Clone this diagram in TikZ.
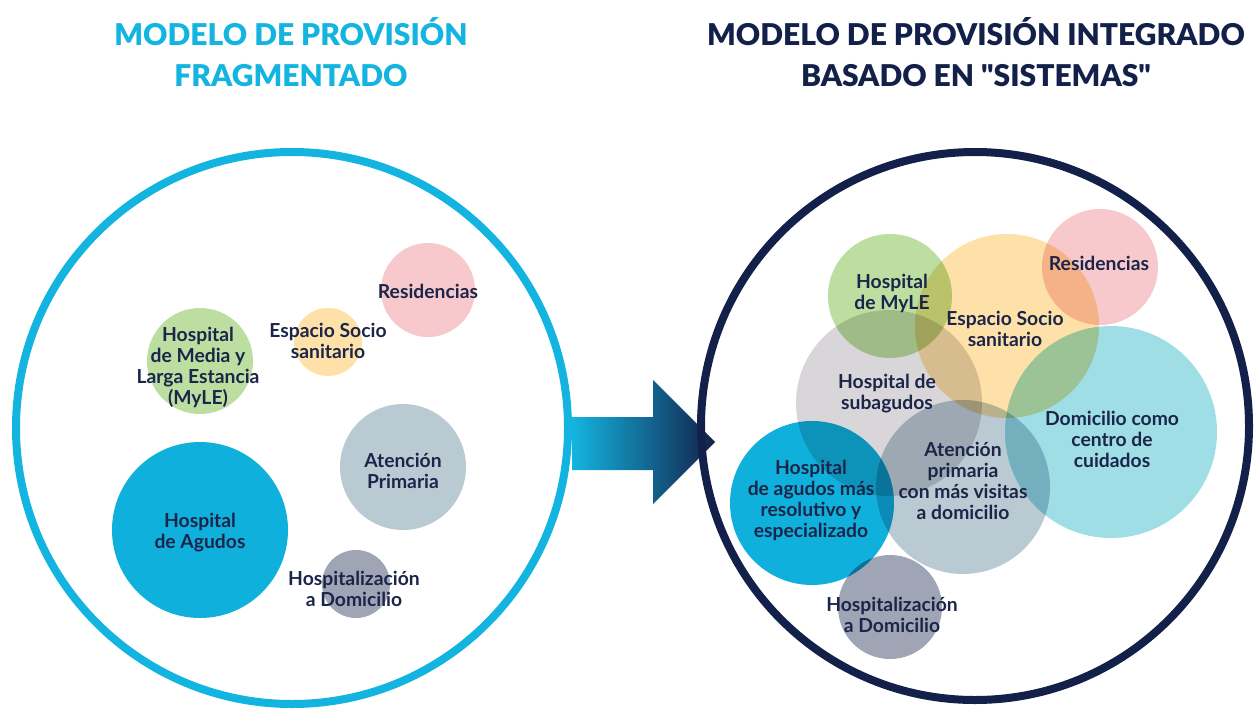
\documentclass[tikz,border=0pt]{standalone}
\usepackage{fontspec}
\setmainfont{Lato}
\IfFontExistsTF{Lato Black}{\newfontfamily\headfont{Lato Black}}{\def\headfont{\bfseries}}
\definecolor{cyanring}{RGB}{19,181,224}
\definecolor{navy}{RGB}{19,33,74}
\definecolor{txt}{RGB}{27,37,73}
\definecolor{pinkc}{RGB}{247,201,205}
\definecolor{yellowc}{RGB}{253,225,168}
\definecolor{greenc}{RGB}{189,222,161}
\definecolor{apc}{RGB}{186,202,211}
\definecolor{agudos}{RGB}{16,176,220}
\definecolor{hadc}{RGB}{160,165,181}
\definecolor{subag}{RGB}{216,214,216}
\definecolor{domic}{RGB}{158,222,228}
\tikzset{
  bub/.style={circle, inner sep=0pt, outer sep=0pt, draw=none, minimum size=#1},
  lab/.style={align=center, text=txt, font=\fontsize{19.3}{21}\selectfont\bfseries, inner sep=0pt},
  head/.style={align=center, font=\fontsize{30}{41}\selectfont\headfont, inner sep=0pt},
  ring/.style={circle, draw=#1, line width=8pt, inner sep=0pt, minimum size=552pt, fill=none}
}
\begin{document}
\begin{tikzpicture}[x=1pt,y=-1pt]
\useasboundingbox (0,0) rectangle (1255,709);
% headings
\node[head, text=cyanring] (hl) at (291,52) {MODELO DE PROVISIÓN\\FRAGMENTADO};
\node[head, text=navy] (hr) at (976,52) {MODELO DE PROVISIÓN INTEGRADO\\BASADO EN "SISTEMAS"};
% arrow
\shade[left color=cyanring, right color=navy] (572,417) -- (653,417) -- (653,380) -- (715,442) -- (653,504) -- (653,470) -- (572,470) -- cycle;
% rings
\node[ring=cyanring] (L) at (292,428) {};
\node[ring=navy, minimum size=548pt] (R) at (975,426) {};
% left bubbles
\node[bub=94pt, fill=pinkc] (lres) at (428,290) {};
\node[bub=68pt, fill=yellowc] (lesp) at (328,342) {};
\node[bub=106pt, fill=greenc] (lmyle) at (200,361) {};
\node[bub=126pt, fill=apc] (lap) at (403,467) {};
\node[bub=176pt, fill=agudos] (lag) at (200,530) {};
\node[bub=68pt, fill=hadc] (lhad) at (356,584) {};
\node[lab] (tlres) at (428,291) {Residencias};
\node[lab] (tlesp) at (328,341) {Espacio Socio\\sanitario};
\node[lab] (tlmyle) at (198,367) {Hospital\\de Media y\\Larga Estancia\\(MyLE)};
\node[lab] (tlap) at (403,471) {Atención\\Primaria};
\node[lab] (tlag) at (200,533) {Hospital\\de Agudos};
\node[lab] (tlhad) at (354,589) {Hospitalización\\a Domicilio};
% right bubbles
\begin{scope}[blend group=multiply]
\node[bub=124pt, fill=greenc] (rmyle) at (890,296) {};
\node[bub=184pt, fill=yellowc] (resp) at (1007,326) {};
\node[bub=116pt, fill=pinkc] (rres) at (1100,267) {};
\node[bub=186pt, fill=subag] (rsub) at (889,403) {};
\node[bub=212pt, fill=domic] (rdom) at (1111,432) {};
\node[bub=174pt, fill=apc] (rap) at (963,487) {};
\node[bub=164pt, fill=agudos] (rag) at (812,503) {};
\node[bub=104pt, fill=hadc] (rhad) at (890,607) {};
\end{scope}
\node[lab] (trmyle) at (892,293) {Hospital\\de MyLE};
\node[lab] (tresp) at (1005,329) {Espacio Socio\\sanitario};
\node[lab] (trres) at (1099,263) {Residencias};
\node[lab] (trsub) at (887,394) {Hospital de\\subagudos};
\node[lab] (trdom) at (1112,439) {Domicilio como\\centro de\\cuidados};
\node[lab] (trap) at (963,481) {Atención\\primaria\\con más visitas\\a domicilio};
\node[lab] (trag) at (811,500) {Hospital\\de agudos más\\resolutivo y\\especializado};
\node[lab] (trhad) at (892,615) {Hospitalización\\a Domicilio};
\end{tikzpicture}
\end{document}
